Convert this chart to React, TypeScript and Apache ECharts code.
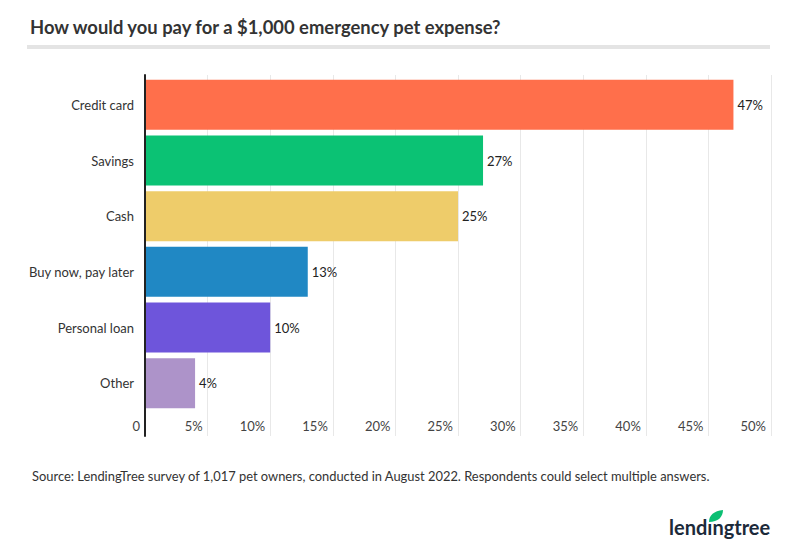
import React, { useEffect, useRef } from "react";
import * as echarts from "echarts";

const categories = ["Credit card", "Savings", "Cash", "Buy now, pay later", "Personal loan", "Other"];
const values = [47, 27, 25, 13, 10, 4];
const barColors = ["#FF6F4B", "#0BC274", "#EECC6A", "#2088C4", "#6E55DB", "#AD93C9"];
const xTicks = [0, 5, 10, 15, 20, 25, 30, 35, 40, 45, 50];

const TITLE = "How would you pay for a $1,000 emergency pet expense?";
const SOURCE = "Source: LendingTree survey of 1,017 pet owners, conducted in August 2022. Respondents could select multiple answers.";

echarts.graphic.registerShape(
  "leaf",
  echarts.graphic.extendPath("M0 12 C0 5 5 1 14 0 C14 7 9 12 0 12 Z", {})
);

export default function App() {
  const ref = useRef<HTMLDivElement>(null);
  useEffect(() => {
    if (!ref.current) return;
    const chart = echarts.init(ref.current, null, { renderer: "svg" });
    const font = "Lato, 'Noto Sans', sans-serif";
    const xMin = xTicks[0];
    const xMax = xTicks[xTicks.length - 1];
    chart.setOption({
      animation: false,
      backgroundColor: "#ffffff",
      textStyle: { fontFamily: font },
      title: {
        text: TITLE,
        left: 25,
        top: 13,
        textStyle: { fontFamily: font, fontSize: 18.4, fontWeight: "bold", color: "#333333" },
      },
      grid: [
        { left: 145, right: 29, top: 77, height: 334 },
        { left: 145, right: 29, top: 75, height: 361 },
      ],
      xAxis: [
        {
          type: "value",
          gridIndex: 0,
          min: xMin,
          max: xMax,
          interval: 5,
          axisLine: { show: false },
          axisTick: { show: false },
          splitLine: { show: false },
          axisLabel: { show: false },
        },
        {
          type: "value",
          gridIndex: 1,
          min: xMin,
          max: xMax,
          interval: 5,
          axisLine: { show: false },
          axisTick: { show: false },
          splitLine: { show: true, lineStyle: { color: "#e8e8e8", width: 1 } },
          axisLabel: {
            inside: true,
            margin: 4,
            align: "right",
            padding: [0, 5, 0, 0],
            color: "#444444",
            fontSize: 13,
            fontFamily: font,
            formatter: (v: number) => (v === 0 ? "0" : v + "%"),
          },
        },
      ],
      yAxis: [
        {
          type: "category",
          gridIndex: 0,
          data: categories,
          inverse: true,
          axisLine: { show: false },
          axisTick: { show: false },
          splitLine: { show: false },
          axisLabel: { color: "#333333", fontSize: 13, margin: 11, fontFamily: font },
        },
        {
          type: "value",
          gridIndex: 1,
          min: 0,
          max: 1,
          z: 5,
          axisLine: { show: true, lineStyle: { color: "#222222", width: 2 } },
          axisTick: { show: false },
          splitLine: { show: false },
          axisLabel: { show: false },
        },
      ],
      series: [
        {
          type: "bar",
          xAxisIndex: 0,
          yAxisIndex: 0,
          barWidth: 50,
          data: values.map((v, i) => ({ value: v, itemStyle: { color: barColors[i] } })),
          label: {
            show: true,
            position: "right",
            distance: 4,
            formatter: "{c}%",
            color: "#222222",
            fontSize: 13,
            fontFamily: font,
          },
        },
      ],
      graphic: [
        {
          type: "rect",
          shape: { x: 27, y: 45, width: 743, height: 4 },
          style: { fill: "#e4e4e4" },
        },
        {
          type: "text",
          x: 32,
          y: 469,
          style: { text: SOURCE, font: "12.9px " + font, fill: "#333333" },
        },
        {
          type: "text",
          x: 669,
          y: 517,
          style: { text: "lend\u0131ngtree", font: "bold 20px " + font, fill: "#1c2a3a" },
        },
        {
          type: "leaf",
          x: 709,
          y: 510,
          scaleX: 1,
          scaleY: 1,
          style: { fill: "#0bbf73" },
        },
      ],
    });
    return () => chart.dispose();
  }, []);
  return (
    <div
      ref={ref}
      style={{ position: "absolute", left: 0, top: 0, width: 800, height: 555 }}
    />
  );
}
